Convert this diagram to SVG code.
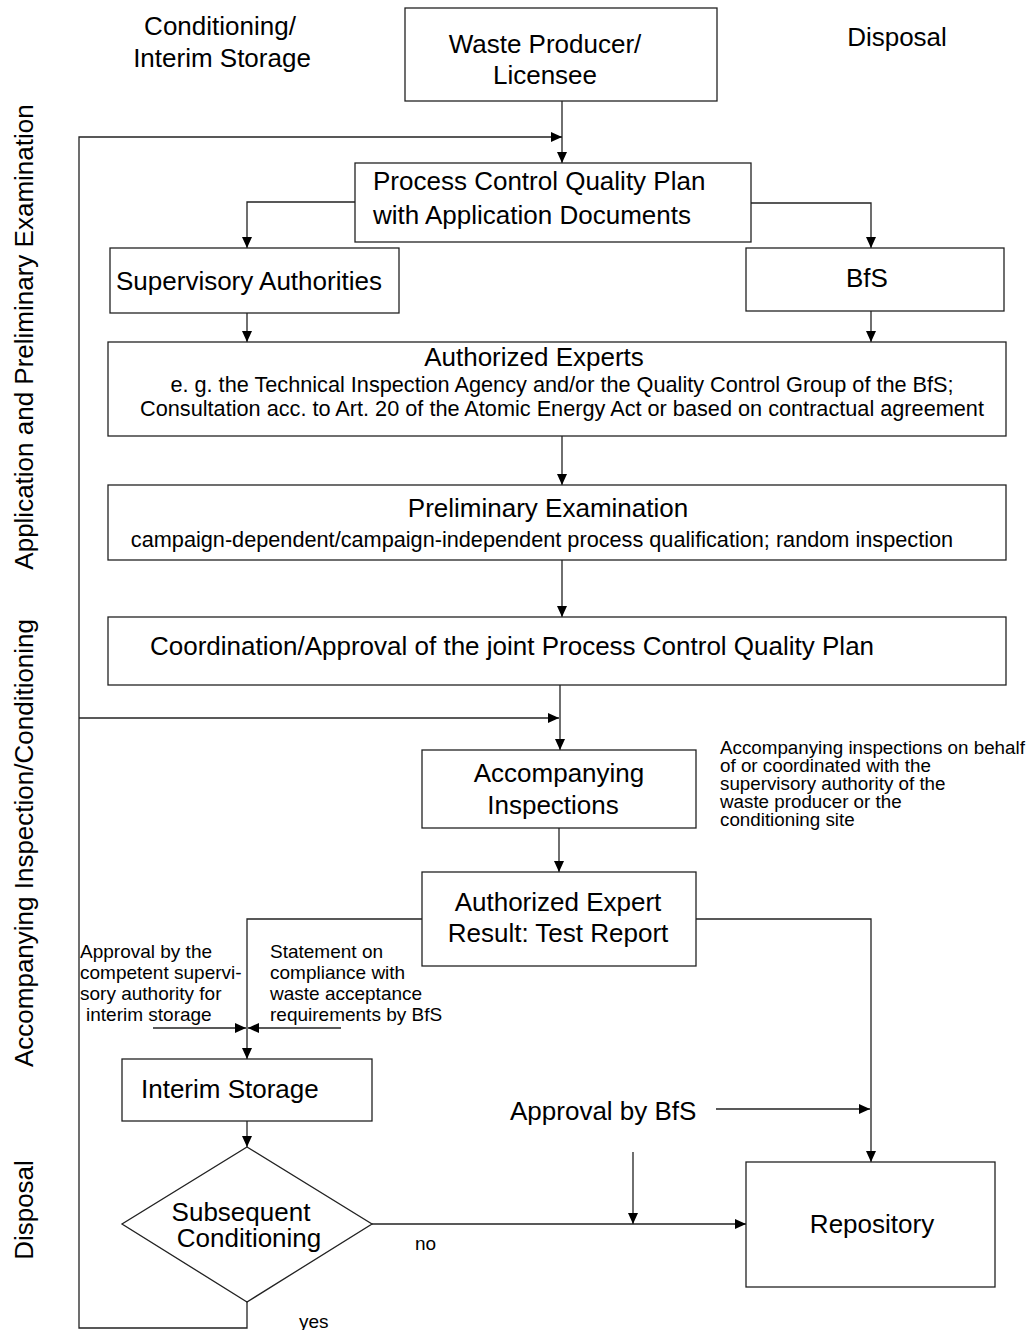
<svg xmlns="http://www.w3.org/2000/svg" width="1036" height="1330" viewBox="0 0 1036 1330">
<style>
text{font-family:"Liberation Sans",Arial,sans-serif;fill:#000}
.b{fill:#fff;stroke:#222;stroke-width:1.3}
.t26{font-size:26px}
.t22{font-size:21.7px}
.t19{font-size:19px}
.t18{font-size:18.8px}
.c{text-anchor:middle}
.ln{fill:none;stroke:#222;stroke-width:1.3}
</style>
<defs>
<marker id="ah" markerUnits="userSpaceOnUse" markerWidth="12" markerHeight="11" refX="11" refY="5" orient="auto">
<path d="M0,0 L11,5 L0,10 z" fill="#000"/>
</marker>
</defs>
<rect width="1036" height="1330" fill="#fff"/>

<g id="headers">
<text class="t26 c" x="220" y="35">Conditioning/</text>
<text class="t26 c" x="222" y="67">Interim Storage</text>
<text class="t26 c" x="897" y="46">Disposal</text>
<text class="t26 c" transform="translate(33,337) rotate(-90)">Application and Preliminary Examination</text>
<text class="t26 c" transform="translate(33,843) rotate(-90)">Accompanying Inspection/Conditioning</text>
<text class="t26 c" transform="translate(33,1210) rotate(-90)">Disposal</text>
</g>

<g id="connectors">
<path class="ln" marker-end="url(#ah)" d="M562,101 V163"/>
<path class="ln" marker-end="url(#ah)" d="M247,1302 V1328 H79 V137 H562"/>
<path class="ln" marker-end="url(#ah)" d="M79,718 H559"/>
<path class="ln" marker-end="url(#ah)" d="M355,202 H247 V248"/>
<path class="ln" marker-end="url(#ah)" d="M751,203 H871 V248"/>
<path class="ln" marker-end="url(#ah)" d="M247,313 V342"/>
<path class="ln" marker-end="url(#ah)" d="M871,311 V342"/>
<path class="ln" marker-end="url(#ah)" d="M562,436 V485"/>
<path class="ln" marker-end="url(#ah)" d="M562,560 V617"/>
<path class="ln" marker-end="url(#ah)" d="M560,685 V750"/>
<path class="ln" marker-end="url(#ah)" d="M559,828 V872"/>
<path class="ln" marker-end="url(#ah)" d="M422,919 H247 V1059"/>
<path class="ln" marker-end="url(#ah)" d="M153,1028 H246"/>
<path class="ln" marker-end="url(#ah)" d="M341,1028 H248"/>
<path class="ln" marker-end="url(#ah)" d="M696,919 H871 V1162"/>
<path class="ln" marker-end="url(#ah)" d="M716,1109 H870"/>
<path class="ln" marker-end="url(#ah)" d="M247,1121 V1147"/>
<path class="ln" marker-end="url(#ah)" d="M372,1224 H746"/>
<path class="ln" marker-end="url(#ah)" d="M633,1152 V1224"/>
<text class="t19" x="415" y="1250">no</text>
<text class="t19" x="299" y="1328">yes</text>
</g>

<g id="waste-producer">
<rect class="b" x="405" y="8" width="312" height="93"/>
<text class="t26 c" x="545" y="53">Waste Producer/</text>
<text class="t26 c" x="545" y="84">Licensee</text>
</g>

<g id="process-plan">
<rect class="b" x="355" y="163" width="396" height="79"/>
<text class="t26" x="373" y="190">Process Control Quality Plan</text>
<text class="t26" x="373" y="224">with Application Documents</text>
</g>

<g id="supervisory">
<rect class="b" x="110" y="248" width="289" height="65"/>
<text class="t26" x="116" y="290">Supervisory Authorities</text>
</g>

<g id="bfs">
<rect class="b" x="746" y="248" width="258" height="63"/>
<text class="t26 c" x="867" y="287">BfS</text>
</g>

<g id="authorized-experts">
<rect class="b" x="108" y="342" width="898" height="94"/>
<text class="t26 c" x="534" y="366">Authorized Experts</text>
<text class="t22 c" x="562" y="392">e. g. the Technical Inspection Agency and/or the Quality Control Group of the BfS;</text>
<text class="t22 c" x="562" y="416">Consultation acc. to Art. 20 of the Atomic Energy Act or based on contractual agreement</text>
</g>

<g id="preliminary">
<rect class="b" x="108" y="485" width="898" height="75"/>
<text class="t26 c" x="548" y="517">Preliminary Examination</text>
<text class="t22 c" x="542" y="547">campaign-dependent/campaign-independent process qualification; random inspection</text>
</g>

<g id="coordination">
<rect class="b" x="108" y="617" width="898" height="68"/>
<text class="t26" x="150" y="655">Coordination/Approval of the joint Process Control Quality Plan</text>
</g>

<g id="accompanying">
<rect class="b" x="422" y="750" width="274" height="78"/>
<text class="t26 c" x="559" y="782">Accompanying</text>
<text class="t26 c" x="553" y="814">Inspections</text>
</g>

<g id="accompanying-note">
<text class="t18" x="720" y="754">Accompanying inspections on behalf</text>
<text class="t18" x="720" y="772">of or coordinated with the</text>
<text class="t18" x="720" y="790">supervisory authority of the</text>
<text class="t18" x="720" y="808">waste producer or the</text>
<text class="t18" x="720" y="826">conditioning site</text>
</g>

<g id="expert-result">
<rect class="b" x="422" y="872" width="274" height="94"/>
<text class="t26 c" x="558" y="911">Authorized Expert</text>
<text class="t26 c" x="558" y="942">Result: Test Report</text>
</g>

<g id="approval-note">
<text class="t19" x="80" y="958">Approval by the</text>
<text class="t19" x="80" y="979">competent supervi-</text>
<text class="t19" x="80" y="1000">sory authority for</text>
<text class="t19" x="86" y="1021">interim storage</text>
</g>

<g id="statement-note">
<text class="t19" x="270" y="958">Statement on</text>
<text class="t19" x="270" y="979">compliance with</text>
<text class="t19" x="270" y="1000">waste acceptance</text>
<text class="t19" x="270" y="1021">requirements by BfS</text>
</g>

<g id="interim-storage">
<rect class="b" x="122" y="1059" width="250" height="62"/>
<text class="t26" x="141" y="1098">Interim Storage</text>
</g>

<g id="approval-bfs">
<text class="t26" x="510" y="1120">Approval by BfS</text>
</g>

<g id="subsequent-conditioning">
<polygon class="b" points="247,1147 372,1224 247,1302 122,1224"/>
<text class="t26 c" x="241" y="1221">Subsequent</text>
<text class="t26 c" x="249" y="1247">Conditioning</text>
</g>

<g id="repository">
<rect class="b" x="746" y="1162" width="249" height="125"/>
<text class="t26 c" x="872" y="1233">Repository</text>
</g>
</svg>
